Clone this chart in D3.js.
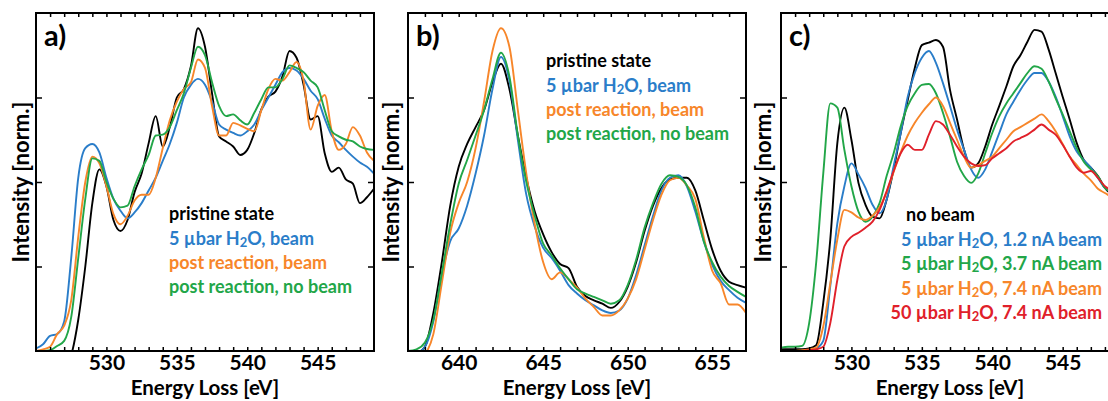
<!DOCTYPE html>
<html>
<head>
<meta charset="utf-8">
<script src="https://cdn.jsdelivr.net/npm/d3@7"></script>
<style>
  body { margin: 0; background: #fff; }
  svg text { font-family: Lato, "Open Sans", sans-serif; font-weight: bold; }
</style>
</head>
<body>
<div id="chart"></div>
<script>
/**
 * DATA
 * */
// O K-edge energies (panels a and c) and Mn L-edge energies (panel b)
const energyO = [525, 525.5, 526, 526.5, 527, 527.5, 528, 528.5, 529, 529.5, 530, 530.5, 531, 531.5, 532, 532.5,
  533, 533.5, 534, 534.5, 535, 535.5, 536, 536.5, 537, 537.5, 538, 538.5, 539, 539.5, 540, 540.5, 541, 541.5,
  542, 542.5, 543, 543.5, 544, 544.5, 545, 545.5, 546, 546.5, 547, 547.5, 548, 548.5, 549];
const energyMn = [637, 637.5, 638, 638.5, 639, 639.5, 640, 640.5, 641, 641.5, 642, 642.5, 643, 643.5, 644, 644.5,
  645, 645.5, 646, 646.5, 647, 647.5, 648, 648.5, 649, 649.5, 650, 650.5, 651, 651.5, 652, 652.5, 653, 653.5,
  654, 654.5, 655, 655.5, 656, 656.5, 657];

// panel a
const pristineA = [-0.5, -0.5, -0.5, -0.4, -0.2, -0.05, 0.37, 1.0, 1.75, 2.15, 1.95, 1.55, 1.42, 1.55, 1.88, 2.1,
  2.46, 2.78, 2.42, 2.65, 3.0, 3.1, 3.37, 3.82, 3.6, 3.05, 2.54, 2.48, 2.42, 2.32, 2.38, 2.58, 2.86, 3.01,
  3.07, 3.25, 3.55, 3.47, 3.15, 2.74, 2.78, 2.34, 2.12, 2.17, 2.03, 1.98, 1.75, 1.82, 1.92];
const waterBeamA = [0.03, 0.08, 0.18, 0.2, 0.35, 1.1, 2.05, 2.4, 2.45, 2.35, 2.05, 1.8, 1.66, 1.57, 1.64, 1.75,
  1.9, 2.05, 2.25, 2.45, 2.7, 3.0, 3.15, 3.22, 3.15, 2.95, 2.68, 2.62, 2.58, 2.55, 2.6, 2.68, 2.85, 3.0,
  3.15, 3.3, 3.35, 3.32, 3.22, 3.08, 2.98, 2.75, 2.55, 2.47, 2.38, 2.3, 2.23, 2.18, 2.1];
const postBeamA = [0.0, 0.02, 0.05, 0.2, 0.3, 0.6, 1.35, 2.0, 2.3, 2.22, 1.95, 1.62, 1.5, 1.6, 1.78, 1.85,
  1.85, 2.05, 2.4, 2.73, 2.95, 3.1, 3.18, 3.45, 3.35, 2.9, 2.55, 2.55, 2.7, 2.67, 2.63, 2.6, 2.85, 3.1,
  3.22, 3.2, 3.3, 3.42, 3.2, 2.62, 2.9, 3.03, 2.6, 2.38, 2.45, 2.65, 2.55, 2.35, 2.25];
const postNoBeamA = [-0.02, 0.0, 0.01, 0.06, 0.12, 0.4, 1.1, 1.8, 2.28, 2.25, 2.0, 1.8, 1.7, 1.72, 1.95, 2.15,
  2.32, 2.55, 2.56, 2.65, 2.85, 3.05, 3.35, 3.6, 3.5, 3.18, 2.9, 2.78, 2.8, 2.73, 2.68, 2.82, 2.98, 3.12,
  3.12, 3.22, 3.38, 3.35, 3.3, 3.2, 3.12, 2.85, 2.6, 2.54, 2.5, 2.48, 2.42, 2.39, 2.38];

// panel b
const pristineB = [-0.05, -0.03, 0.05, 0.45, 1.05, 1.72, 2.18, 2.45, 2.65, 2.85, 3.18, 3.4, 3.1, 2.55, 2.05, 1.65,
  1.38, 1.17, 1.03, 0.98, 0.76, 0.65, 0.6, 0.56, 0.51, 0.58, 0.76, 1.05, 1.42, 1.72, 1.93, 2.03, 2.05, 2.05,
  1.9, 1.55, 1.2, 0.95, 0.82, 0.78, 0.75];
const waterBeamB = [-0.01, -0.02, 0.05, 0.35, 0.9, 1.3, 1.45, 1.72, 2.1, 2.55, 3.1, 3.48, 3.2, 2.5, 1.85, 1.47,
  1.22, 1.1, 0.95, 0.78, 0.68, 0.6, 0.54, 0.48, 0.45, 0.48, 0.62, 0.9, 1.25, 1.6, 1.9, 2.05, 2.08, 1.95,
  1.65, 1.3, 1.02, 0.83, 0.72, 0.63, 0.57];
const postBeamB = [-0.2, -0.15, -0.05, 0.2, 0.8, 1.4, 1.75, 2.0, 2.4, 2.95, 3.55, 3.82, 3.6, 2.85, 2.1, 1.5,
  1.05, 0.85, 0.93, 0.85, 0.75, 0.62, 0.52, 0.42, 0.42, 0.48, 0.62, 0.85, 1.2, 1.55, 1.85, 2.02, 2.05, 1.96,
  1.8, 1.35, 0.95, 0.8, 0.55, 0.55, 0.45];
const postNoBeamB = [0.0, 0.02, 0.1, 0.37, 0.92, 1.5, 1.98, 2.26, 2.55, 2.85, 3.22, 3.53, 3.25, 2.55, 2.0, 1.6,
  1.27, 1.13, 0.98, 0.85, 0.73, 0.68, 0.64, 0.6, 0.56, 0.6, 0.78, 1.08, 1.46, 1.75, 1.98, 2.08, 2.06, 1.96,
  1.7, 1.3, 1.05, 0.88, 0.77, 0.7, 0.64];

// panel c
const noBeamC = [0.02, 0.02, 0.02, 0.02, 0.03, 0.07, 0.57, 1.32, 2.46, 2.88, 2.5, 1.99, 1.73, 1.59, 1.57, 1.79,
  2.15, 2.58, 2.97, 3.35, 3.62, 3.65, 3.68, 3.6, 3.09, 2.74, 2.38, 2.17, 2.22, 2.42, 2.68, 2.9, 3.13, 3.37,
  3.5, 3.66, 3.8, 3.78, 3.57, 3.29, 3.01, 2.74, 2.46, 2.26, 2.17, 2.07, 1.93, 1.85, 1.8];
const beam12C = [0.0, 0.0, 0.0, 0.0, 0.01, 0.03, 0.12, 0.77, 1.51, 1.95, 2.22, 2.09, 1.93, 1.73, 1.63, 1.79,
  2.19, 2.58, 3.01, 3.29, 3.47, 3.55, 3.41, 3.17, 2.9, 2.62, 2.38, 2.15, 2.05, 2.15, 2.36, 2.58, 2.8, 2.95,
  3.09, 3.21, 3.29, 3.29, 3.19, 3.01, 2.78, 2.54, 2.36, 2.26, 2.17, 2.05, 1.93, 1.88, 1.82];
const beam37C = [0.04, 0.05, 0.05, 0.06, 0.33, 1.05, 2.1, 2.93, 2.88, 2.38, 1.95, 1.65, 1.53, 1.59, 1.75, 2.07,
  2.34, 2.66, 2.9, 3.05, 3.15, 3.16, 3.05, 2.82, 2.54, 2.24, 2.07, 1.99, 2.1, 2.34, 2.58, 2.78, 2.93, 3.05,
  3.17, 3.29, 3.37, 3.34, 3.19, 2.99, 2.8, 2.6, 2.4, 2.24, 2.15, 2.07, 1.93, 1.88, 1.83];
const beam74C = [0.0, 0.0, 0.0, 0.01, 0.02, 0.04, 0.29, 0.8, 1.32, 1.67, 1.64, 1.58, 1.55, 1.6, 1.7, 1.88,
  2.12, 2.35, 2.55, 2.7, 2.82, 2.92, 3.0, 2.9, 2.7, 2.5, 2.3, 2.17, 2.2, 2.25, 2.3, 2.4, 2.5, 2.6,
  2.65, 2.7, 2.75, 2.8, 2.72, 2.6, 2.45, 2.3, 2.2, 2.1, 2.02, 1.92, 1.87, 1.82, 1.78];
const beam74HighC = [0.0, 0.0, 0.0, 0.0, 0.01, 0.02, 0.05, 0.33, 0.84, 1.24, 1.35, 1.4, 1.46, 1.53, 1.67, 1.89,
  2.13, 2.34, 2.44, 2.38, 2.38, 2.56, 2.72, 2.68, 2.56, 2.42, 2.3, 2.22, 2.19, 2.2, 2.28, 2.34, 2.4, 2.48,
  2.52, 2.56, 2.62, 2.68, 2.62, 2.56, 2.44, 2.3, 2.17, 2.11, 2.13, 2.05, 1.95, 1.9, 1.85];

// legend labels, tick labels
const legendAB = ["pristine state", "5 µbar H₂O, beam", "post reaction, beam", "post reaction, no beam"];
const legendC = ["no beam", "5 µbar H₂O, 1.2 nA beam", "5 µbar H₂O, 3.7 nA beam", "5 µbar H₂O, 7.4 nA beam",
  "50 µbar H₂O, 7.4 nA beam"];
const ticksO = [530, 535, 540, 545];
const ticksMn = [640, 645, 650, 655];

/**
 * CONSTANTS
 * */
const W = 1108, H = 401,
  plotTop = 13, plotW = 338, plotH = 338,
  colors = { black: "#000000", blue: "#2a7dc9", orange: "#f7862a", green: "#22a648", red: "#e0202a" };

const svg = d3.select("#chart").append("svg").attr("width", W).attr("height", H);

function drawPanel(p) {
  const g = svg.append("g").attr("transform", `translate(${p.left}, ${plotTop})`);
  const x = d3.scaleLinear().domain(p.domain).range([0, plotW]);
  const y = d3.scaleLinear().domain([0, 4]).range([plotH, 0]);

  // clip to the frame
  g.append("clipPath").attr("id", "clip-" + p.id)
    .append("rect").attr("width", plotW).attr("height", plotH);

  const line = d3.line()
    .curve(d3.curveMonotoneX)
    .x((d, i) => x(p.energy[i]))
    .y(d => y(d));

  g.append("g").attr("clip-path", `url(#clip-${p.id})`)
    .selectAll("path")
    .data(p.series)
    .join("path")
    .attr("fill", "none")
    .attr("stroke", d => d.color)
    .attr("stroke-width", 1.9)
    .attr("stroke-linejoin", "round")
    .attr("d", d => line(d.values));

  // minor ticks every 1 eV
  const minor = d3.range(Math.ceil(p.domain[0]) + 1, p.domain[1]);
  const fmt = v => p.labels.includes(v) ? v : "";

  const xBottom = g.append("g").attr("transform", `translate(0, ${plotH})`)
    .call(d3.axisBottom(x).tickValues(minor).tickSize(-4).tickPadding(4).tickFormat(fmt));
  const xTop = g.append("g")
    .call(d3.axisTop(x).tickValues(minor).tickSize(-4).tickFormat(""));
  const yLeft = g.append("g")
    .call(d3.axisLeft(y).tickValues([1, 2, 3]).tickSize(-6).tickFormat(""));
  const yRight = g.append("g").attr("transform", `translate(${plotW}, 0)`)
    .call(d3.axisRight(y).tickValues([1, 2, 3]).tickSize(-6).tickFormat(""));

  [xBottom, xTop, yLeft, yRight].forEach(a => {
    a.select(".domain").remove();
    a.selectAll(".tick line").attr("stroke", "#000").attr("stroke-width", 1.5);
  });
  xBottom.selectAll(".tick text")
    .attr("font-size", 21).attr("fill", "#000")
    .attr("font-family", "Lato, sans-serif").attr("font-weight", "bold");

  g.append("rect")
    .attr("width", plotW).attr("height", plotH)
    .attr("fill", "none").attr("stroke", "#000").attr("stroke-width", 2);

  // panel letter
  g.append("text").attr("x", 8).attr("y", 33)
    .attr("font-size", 29).text(p.id + ")");

  // axis titles
  g.append("text")
    .attr("x", plotW / 2).attr("y", plotH + 44)
    .attr("text-anchor", "middle")
    .attr("font-size", 20.5).text("Energy Loss [eV]");
  g.append("text")
    .attr("transform", `translate(${p.yLabelX}, ${plotH / 2}) rotate(-90)`)
    .attr("text-anchor", "middle").attr("dominant-baseline", "middle")
    .attr("font-size", 22).text("Intensity [norm.]");

  // legend
  const leg = g.append("g");
  p.legend.forEach((txt, i) => {
    const t = leg.append("text")
      .attr("x", p.legendX(i)).attr("y", p.legendY + i * 24.5)
      .attr("text-anchor", p.legendAnchor(i))
      .attr("dominant-baseline", "middle")
      .attr("font-size", 18)
      .attr("fill", p.series[i].color);
    const parts = txt.split("₂");
    if (parts.length === 1) {
      t.text(txt);
    } else {
      t.append("tspan").text(parts[0]);
      t.append("tspan").attr("font-size", 13).attr("dy", 4).text("2");
      t.append("tspan").attr("dy", -4).text(parts[1]);
    }
  });
}

drawPanel({
  id: "a", left: 36, domain: [525, 549], energy: energyO, labels: ticksO, yLabelX: -13,
  series: [
    { color: colors.black, values: pristineA },
    { color: colors.blue, values: waterBeamA },
    { color: colors.orange, values: postBeamA },
    { color: colors.green, values: postNoBeamA }
  ],
  legend: legendAB, legendY: 202, legendX: () => 133, legendAnchor: () => "start"
});

drawPanel({
  id: "b", left: 408, domain: [637, 657], energy: energyMn, labels: ticksMn, yLabelX: -15,
  series: [
    { color: colors.black, values: pristineB },
    { color: colors.blue, values: waterBeamB },
    { color: colors.orange, values: postBeamB },
    { color: colors.green, values: postNoBeamB }
  ],
  legend: legendAB, legendY: 49, legendX: () => 138, legendAnchor: () => "start"
});

drawPanel({
  id: "c", left: 781, domain: [525, 549], energy: energyO, labels: ticksO, yLabelX: -16,
  series: [
    { color: colors.black, values: noBeamC },
    { color: colors.blue, values: beam12C },
    { color: colors.green, values: beam37C },
    { color: colors.orange, values: beam74C },
    { color: colors.red, values: beam74HighC }
  ],
  legend: legendC, legendY: 203, legendX: i => i === 0 ? 125 : 321, legendAnchor: i => i === 0 ? "start" : "end"
});
</script>
</body>
</html>
